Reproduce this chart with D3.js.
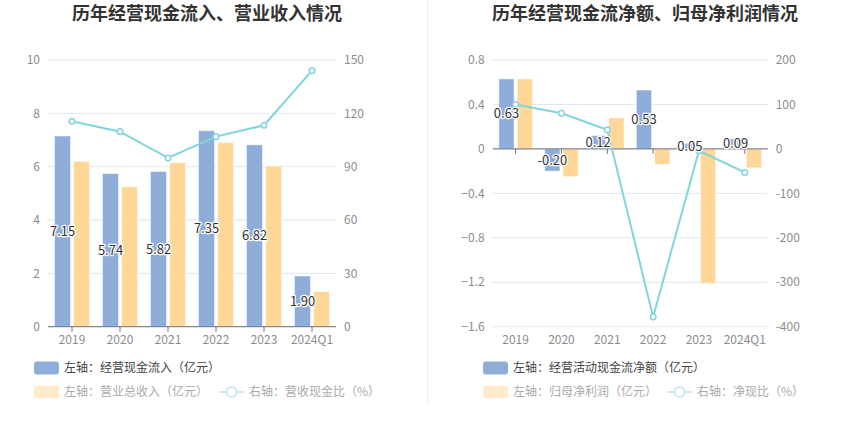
<!DOCTYPE html>
<html><head><meta charset="utf-8">
<script src="https://cdn.jsdelivr.net/npm/d3@7/dist/d3.min.js"></script>
<style>
body{margin:0;background:#fff;}
svg{display:block;font-family:"Noto Sans CJK SC","Noto Sans",sans-serif;}
</style></head>
<body><svg id="c" width="850" height="436"></svg>
<script>
const categories = ["2019","2020","2021","2022","2023","2024Q1"];
// left chart
const cashInflow = [7.15,5.74,5.82,7.35,6.82,1.90];
const revenue = [6.20,5.25,6.15,6.90,6.03,1.32];
const cashRatio = [115.5,109.7,94.9,106.9,113.3,144.0];
const leftTicks = [0,2,4,6,8,10];
const leftRightTicks = [0,30,60,90,120,150];
// right chart
const netCashFlow = [0.63,-0.20,0.12,0.53,0.05,0.09];
const netProfit = [0.63,-0.25,0.28,-0.14,-1.21,-0.17];
const netRatio = [100.0,80.0,42.9,-378.0,-4.1,-53.0];
const rightTicks = [-1.6,-1.2,-0.8,-0.4,0,0.4,0.8];
const rightRightTicks = [-400,-300,-200,-100,0,100,200];

const BLUE="#8EADD9", YEL="#FFD899", LINE="#80D6DA";
const svg=d3.select("#c");

// divider
svg.append("line").attr("x1",427.5).attr("x2",427.5).attr("y1",0).attr("y2",405).attr("stroke","#eeeeee").attr("stroke-width",1);

function drawChart(o){
  const g=svg.append("g");
  const top=60, bottom=326.7;
  const x=d3.scaleBand().domain(categories).range([o.x0,o.x1]).padding(0);
  const yL=d3.scaleLinear().domain(o.lDom).range([bottom,top]);
  const yR=d3.scaleLinear().domain(o.rDom).range([bottom,top]);
  // title
  g.append("text").attr("x",o.tx).attr("y",20).attr("text-anchor","middle")
   .attr("font-size",18).attr("font-weight","bold").attr("fill","#333").text(o.title);
  // grid
  o.lTicks.forEach(t=>{
    g.append("line").attr("x1",o.x0).attr("x2",o.x1).attr("y1",yL(t)).attr("y2",yL(t)).attr("stroke","#E0E6F1");
    g.append("text").attr("x",o.x0-8).attr("y",yL(t)).attr("dy","0.35em").attr("text-anchor","end")
     .attr("font-size",12).attr("fill","#8c8c8c").text(d3.format(o.lFmt)(t));
  });
  o.rTicks.forEach(t=>{
    g.append("text").attr("x",o.x1+8).attr("y",yR(t)).attr("dy","0.35em").attr("text-anchor","start")
     .attr("font-size",12).attr("fill","#8c8c8c").text(t);
  });
  const bw=x.bandwidth()*0.333, gap=3;
  const cx=d=>x(d)+x.bandwidth()/2;
  // bars
  categories.forEach((c,i)=>{
    const v1=o.s1[i], v2=o.s2[i];
    g.append("rect").attr("x",cx(c)-gap/2-bw).attr("width",bw)
     .attr("y",yL(Math.max(0,v1))).attr("height",Math.abs(yL(v1)-yL(0)))
     .attr("fill",BLUE).attr("stroke","#ffffff").attr("stroke-opacity",0.5).attr("stroke-width",1);
    g.append("rect").attr("x",cx(c)+gap/2).attr("width",bw)
     .attr("y",yL(Math.max(0,v2))).attr("height",Math.abs(yL(v2)-yL(0)))
     .attr("fill",YEL).attr("stroke","#ffffff").attr("stroke-opacity",0.5).attr("stroke-width",1);
  });
  // axis line at zero
  const y0=yL(0);
  g.append("line").attr("x1",o.x0).attr("x2",o.x1).attr("y1",y0).attr("y2",y0).attr("stroke","#6E7079");
  categories.forEach(c=>{
    g.append("line").attr("x1",cx(c)).attr("x2",cx(c)).attr("y1",y0).attr("y2",y0+5).attr("stroke","#6E7079");
    g.append("text").attr("x",cx(c)).attr("y",340).attr("dy","0.35em").attr("text-anchor","middle")
     .attr("font-size",12).attr("fill","#8c8c8c").text(c);
  });
  // line
  const line=d3.line().x((d,i)=>cx(categories[i])).y(d=>yR(d));
  g.append("path").datum(o.s3).attr("d",line).attr("fill","none").attr("stroke",LINE).attr("stroke-width",2);
  o.s3.forEach((v,i)=>{
    g.append("circle").attr("cx",cx(categories[i])).attr("cy",yR(v)).attr("r",2.8)
     .attr("fill","#fff").attr("stroke",LINE).attr("stroke-width",1.5);
  });
  // labels
  categories.forEach((c,i)=>{
    const v=o.s1[i];
    g.append("text").attr("x",cx(c)-gap/2-bw/2).attr("y",(yL(v)+yL(0))/2).attr("dy","0.35em")
     .attr("text-anchor","middle").attr("font-size",13).attr("fill","#333")
     .attr("stroke","#fff").attr("stroke-width",2.5).attr("paint-order","stroke").attr("stroke-linejoin","round")
     .text(v.toFixed(2));
  });
  // legend
  const lx=o.legX;
  g.append("rect").attr("x",lx).attr("y",361.5).attr("width",25).attr("height",13).attr("rx",3).attr("fill",BLUE);
  g.append("text").attr("x",lx+30).attr("y",368).attr("dy","0.35em").attr("font-size",12).attr("fill","#444").text(o.leg1);
  g.append("rect").attr("x",lx).attr("y",385.5).attr("width",25).attr("height",13).attr("rx",3).attr("fill","#FFEBCC");
  g.append("text").attr("x",lx+30).attr("y",392).attr("dy","0.35em").attr("font-size",12).attr("fill","#aaa").text(o.leg2);
  const ix=o.leg3X;
  g.append("line").attr("x1",ix).attr("x2",ix+25).attr("y1",392).attr("y2",392).attr("stroke","#C5ECEE").attr("stroke-width",2);
  g.append("circle").attr("cx",ix+12.5).attr("cy",392).attr("r",5).attr("fill","#fff").attr("stroke","#C5ECEE").attr("stroke-width",2);
  g.append("text").attr("x",ix+30).attr("y",392).attr("dy","0.35em").attr("font-size",12).attr("fill","#aaa").text(o.leg3);
}

drawChart({x0:48,x1:336,lDom:[0,10],rDom:[0,150],lTicks:leftTicks,rTicks:leftRightTicks,lFmt:"",
  s1:cashInflow,s2:revenue,s3:cashRatio,title:"历年经营现金流入、营业收入情况",tx:207,
  legX:34,leg3X:219,leg1:"左轴：经营现金流入（亿元）",leg2:"左轴：营业总收入（亿元）",leg3:"右轴：营收现金比（%）"});
drawChart({x0:492.7,x1:767.7,lDom:[-1.6,0.8],rDom:[-400,200],lTicks:rightTicks,rTicks:rightRightTicks,lFmt:"",
  s1:netCashFlow,s2:netProfit,s3:netRatio,title:"历年经营现金流净额、归母净利润情况",tx:645,
  legX:483,leg3X:667,leg1:"左轴：经营活动现金流净额（亿元）",leg2:"左轴：归母净利润（亿元）",leg3:"右轴：净现比（%）"});
</script></body></html>
